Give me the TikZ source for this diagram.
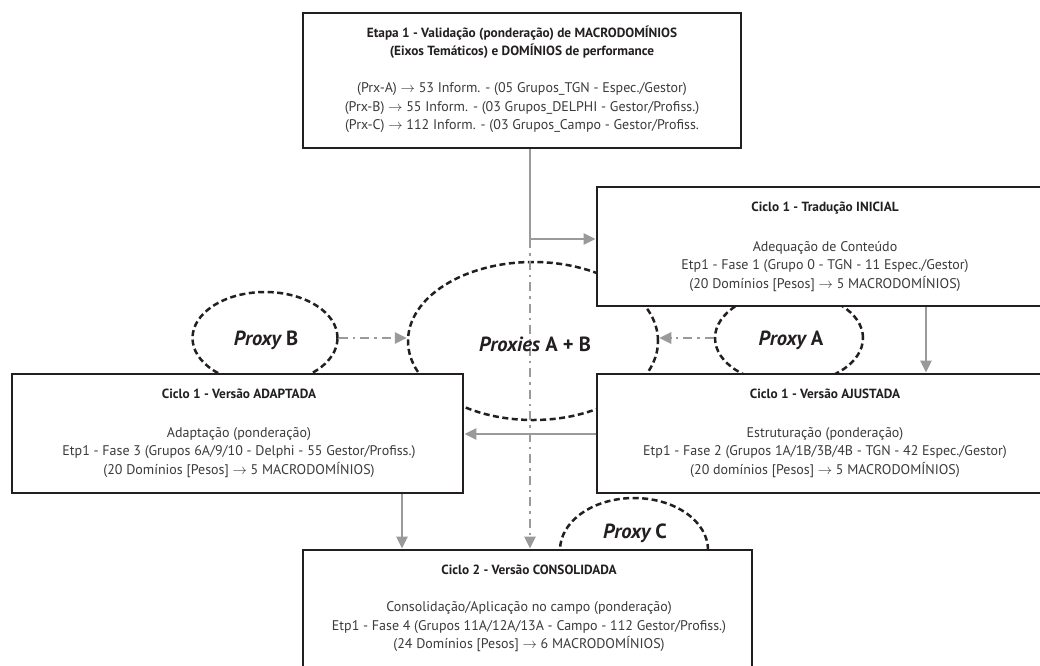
\documentclass[tikz,border=0pt]{standalone}
\usepackage{fontspec}
\setmainfont{PT Sans}
\usetikzlibrary{arrows.meta,shapes.geometric}
\definecolor{arrgray}{HTML}{9A9A9A}
\definecolor{inkblack}{HTML}{231F20}
\newcommand{\rarrow}{\ensuremath{\rightarrow}}
\begin{document}
\begin{tikzpicture}[x=1pt,y=-1pt,
  box/.style={draw=inkblack, line width=2.9pt, fill=white, inner sep=0pt},
  ttl/.style={font=\bfseries\fontsize{13.3}{18.5}\selectfont, align=center, text=inkblack, inner sep=0pt},
  bdy/.style={font=\fontsize{14}{18.5}\selectfont, align=center, text=inkblack!88, inner sep=0pt},
  prox/.style={ellipse, draw=inkblack, line width=2.5pt, dash pattern=on 6pt off 3.5pt, inner sep=0pt},
  ptxt/.style={font=\bfseries\fontsize{20.5}{24}\selectfont, text=inkblack, inner sep=0pt},
  flow/.style={draw=arrgray, line width=2.6pt, -{Triangle[length=12pt,width=11pt]}},
  ddflow/.style={flow, dash pattern=on 9pt off 5pt on 2.5pt off 5pt}]

\useasboundingbox (0,0) rectangle (1040,665);

% proxies (drawn first, boxes hide parts of them)
\node[prox, minimum width=250pt, minimum height=158pt] (pab) at (533,341) {};
\node[prox, minimum width=145pt, minimum height=92pt] (pb) at (265,338) {};
\node[prox, minimum width=148pt, minimum height=92pt] (pa) at (789,338) {};
\node[prox, minimum width=148pt, minimum height=104pt] (pc) at (634,550) {};

% boxes
\node[box, minimum width=438pt, minimum height=135pt] (top) at (522,80.5) {};
\node[box, minimum width=466pt, minimum height=119pt] (trad) at (830,246.5) {};
\node[box, minimum width=466pt, minimum height=119pt] (ajust) at (830,433.5) {};
\node[box, minimum width=451pt, minimum height=119pt] (adapt) at (237.5,433.5) {};
\node[box, minimum width=449pt, minimum height=140pt] (cons) at (527.5,620) {};

% connectors
\coordinate (c1) at (530,239);
\coordinate (c2) at (926,0);
\coordinate (c3) at (0,434);
\coordinate (c4) at (402,0);
\draw[ddflow] (c1) -- (c1 |- cons.north);
\draw[flow] (c1 |- top.south) -- (c1) -- (c1 -| trad.west);
\draw[flow] (c2 |- trad.south) -- (c2 |- ajust.north);
\draw[flow] (c3 -| ajust.west) -- (c3 -| adapt.east);
\draw[flow] (c4 |- adapt.south) -- (c4 |- cons.north);
\draw[ddflow] (pb.east) -- (pb.east -| pab.west);
\draw[ddflow] (pa.west) -- (pa.west -| pab.east);

% proxy labels
\node[ptxt] (tpab) at (535,344) {\itshape Proxies\upshape{} A + B};
\node[ptxt] (tpb) at (266,340) {\itshape Proxy\upshape{} B};
\node[ptxt] (tpa) at (791,340) {\itshape Proxy\upshape{} A};
\node[ptxt] (tpc) at (635,533) {\itshape Proxy\upshape{} C};

% box texts
\node[ttl] (topt) at (522,42) {Etapa 1 - Validação (ponderação) de MACRODOMÍNIOS\\(Eixos Temáticos) e DOMÍNIOS de performance};
\node[bdy] (topb) at (522,108) {(Prx-A) \rarrow{} 53 Inform. - (05 Grupos\_TGN - Espec./Gestor)\\(Prx-B) \rarrow{} 55 Inform. - (03 Grupos\_DELPHI - Gestor/Profiss.)\\(Prx-C) \rarrow{} 112 Inform. - (03 Grupos\_Campo - Gestor/Profiss.};

\node[ttl] (tradt) at (825,208) {Ciclo 1 - Tradução INICIAL};
\node[bdy] (tradb) at (825,266.5) {Adequação de Conteúdo\\Etp1 - Fase 1 (Grupo 0 - TGN - 11 Espec./Gestor)\\(20 Domínios [Pesos] \rarrow{} 5 MACRODOMÍNIOS)};

\node[ttl] (ajustt) at (825,394) {Ciclo 1 - Versão AJUSTADA};
\node[bdy] (ajustb) at (825,452.5) {Estruturação (ponderação)\\Etp1 - Fase 2 (Grupos 1A/1B/3B/4B - TGN - 42 Espec./Gestor)\\(20 domínios [Pesos] \rarrow{} 5 MACRODOMÍNIOS)};

\node[ttl] (adaptt) at (239,394) {Ciclo 1 - Versão ADAPTADA};
\node[bdy] (adaptb) at (239,452.5) {Adaptação (ponderação)\\Etp1 - Fase 3 (Grupos 6A/9/10 - Delphi - 55 Gestor/Profiss.)\\(20 Domínios [Pesos] \rarrow{} 5 MACRODOMÍNIOS)};

\node[ttl] (const) at (529,570) {Ciclo 2 - Versão CONSOLIDADA};
\node[bdy] (consb) at (529,627) {Consolidação/Aplicação no campo (ponderação)\\Etp1 - Fase 4 (Grupos 11A/12A/13A - Campo - 112 Gestor/Profiss.)\\(24 Domínios [Pesos] \rarrow{} 6 MACRODOMÍNIOS)};
\end{tikzpicture}
\end{document}
